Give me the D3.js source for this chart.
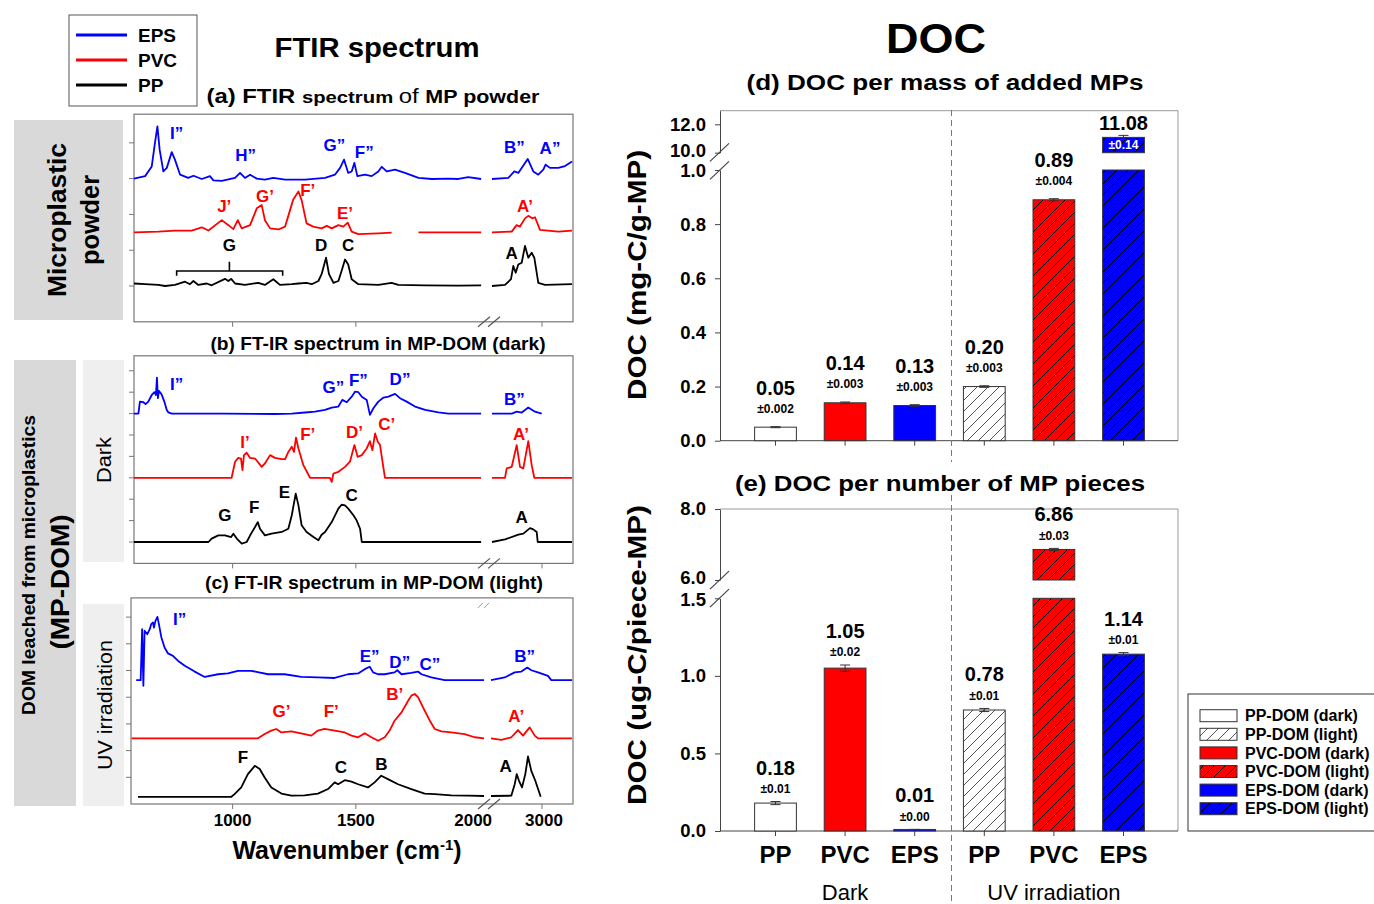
<!DOCTYPE html>
<html>
<head>
<meta charset="utf-8">
<script src="https://cdn.jsdelivr.net/npm/d3@7"></script>
<style>
  body { margin: 0; background: #fff; }
  svg { display: block; font-family: "Liberation Sans", Arial, sans-serif; }
</style>
</head>
<body>
<svg id="fig" width="1374" height="904"></svg>
<script>
// ---------- FTIR spectra: [wavenumber (cm-1), intensity above own baseline] ----------
// (a) powder
const epsPowder = [[600,0],[645,0.07],[672,0.34],[685,1.0],[695,1.46],[704,0.81],[719,0.2],[733,0.3],[753,0.74],[766,0.53],[787,0.11],[820,0.02],[841,0.08],[875,-0.01],[908,0.07],[922,-0.05],[956,-0.06],[1010,0.02],[1030,0.16],[1050,0.02],[1071,0.11],[1098,0],[1131,-0.03],[1165,0.02],[1213,-0.03],[1294,-0.03],[1375,0.02],[1415,0.11],[1436,0.3],[1452,0.53],[1469,0.16],[1483,0.2],[1494,0.44],[1506,0.07],[1537,0.11],[1564,0.07],[1591,0.2],[1605,0.33],[1625,0.2],[1659,0.25],[1699,0.16],[1754,0.02],[1808,-0.01],[1875,0],[1916,-0.01],[1956,0.04],[2008,-0.01],
  [2500,-0.01],[2663,0.02],[2723,0.2],[2763,0.16],[2857,0.55],[2913,0.2],[2963,0.11],[3013,0.25],[3036,0.39],[3080,0.3],[3163,0.3],[3230,0.35],[3300,0.48]];
const pvcPowder = [[600,0],[699,0.02],[766,0.05],[834,0.05],[875,0.14],[902,0.05],[956,0.34],[983,0.2],[1003,0.09],[1021,0.34],[1037,0.11],[1071,0.2],[1098,0.67],[1118,0.76],[1131,0.34],[1152,0.11],[1186,0.08],[1213,0.16],[1233,0.62],[1246,0.92],[1267,1.14],[1280,0.9],[1300,0.25],[1327,0.16],[1361,0.11],[1382,0.18],[1402,0.11],[1429,0.2],[1449,0.16],[1467,0.27],[1483,0.02],[1510,-0.05],[1591,-0.03],[1645,-0.01],[1700,null],[1754,0],[2008,0],
  [2500,0],[2697,0.02],[2746,0.2],[2780,0.16],[2830,0.39],[2863,0.46],[2903,0.39],[2930,0.42],[2980,0.07],[3163,0.02],[3300,0.05]];
const ppPowder = [[600,0.07],[645,0.05],[699,0.03],[726,0],[766,0.03],[807,0.12],[827,0.05],[841,0.14],[861,0.03],[895,0.07],[915,0.02],[969,0.2],[983,0.14],[994,0.2],[1010,0.07],[1050,0.03],[1104,0.09],[1131,0.03],[1165,0.19],[1192,0.03],[1240,0.05],[1267,0.07],[1300,0.09],[1321,0.05],[1348,0.14],[1361,0.33],[1379,0.79],[1391,0.33],[1409,0.09],[1429,0.14],[1442,0.42],[1456,0.74],[1469,0.6],[1483,0.19],[1510,0.05],[1591,0.03],[1645,0.09],[1672,0.03],[1781,0.02],[1916,0.01],[2008,0.02],
  [2500,0],[2630,0.03],[2690,0.19],[2713,0.56],[2737,0.37],[2763,0.6],[2797,0.65],[2830,1.12],[2863,0.79],[2897,0.93],[2923,0.79],[2963,0.09],[3030,0.03],[3300,0.05]];
// (b) MP-DOM dark
const epsDark = [[600,0],[618,0],[624,0.56],[638,0.53],[647,0.44],[658,0.56],[672,0.87],[683,1.0],[689,0.87],[693,1.68],[697,0.72],[701,1.06],[712,0.9],[723,0.56],[733,0.17],[739,0.06],[753,0],[969,0],[1172,-0.02],[1240,0],[1294,0.05],[1334,0.09],[1375,0.17],[1402,0.28],[1429,0.33],[1445,0.64],[1463,0.53],[1483,0.79],[1497,1.03],[1510,1.0],[1524,0.79],[1544,0.64],[1557,-0.06],[1571,0.25],[1591,0.56],[1612,0.75],[1632,0.79],[1659,0.92],[1679,0.72],[1706,0.56],[1740,0.33],[1781,0.17],[1835,0.06],[1875,0],[2008,0],
  [2500,0],[2697,0],[2747,0.09],[2797,0.05],[2863,0.28],[2930,0.09],[2997,0]];
const pvcDark = [[600,0],[996,0],[1010,0.75],[1023,0.93],[1034,0.9],[1040,0.36],[1046,1.06],[1057,1.17],[1071,0.93],[1091,0.9],[1118,0.51],[1131,0.67],[1152,1.06],[1172,0.93],[1199,0.87],[1213,0.87],[1226,1.21],[1240,1.45],[1249,1.21],[1257,1.88],[1267,1.37],[1287,0.59],[1314,0],[1395,0],[1402,-0.19],[1409,0.2],[1429,0.28],[1456,0.51],[1476,0.75],[1494,1.53],[1507,0.98],[1524,1.06],[1544,1.37],[1557,1.71],[1567,1.29],[1578,2.07],[1589,1.68],[1598,1.53],[1608,0.75],[1618,0],[2008,0],
  [2500,0],[2630,0],[2647,0.44],[2697,0.51],[2747,1.53],[2780,0.51],[2813,0.44],[2863,1.71],[2897,0.59],[2923,0],[3300,0]];
const ppDark = [[600,0],[902,0],[915,0.16],[942,0.31],[969,0.31],[994,0.23],[1003,0.39],[1017,0.16],[1037,-0.08],[1057,0],[1075,0.39],[1091,0.7],[1102,0.93],[1111,0.62],[1131,0.31],[1158,0.39],[1199,0.47],[1226,0.62],[1240,1.25],[1256,2.26],[1267,1.71],[1280,0.78],[1300,0.47],[1328,0.23],[1348,0.08],[1361,0.34],[1375,0.47],[1402,0.93],[1429,1.56],[1442,1.74],[1456,1.71],[1469,1.56],[1490,1.25],[1503,1.01],[1517,0.62],[1524,0],[2008,0],
  [2500,0],[2630,0.12],[2763,0.34],[2813,0.39],[2880,0.65],[2913,0.59],[2947,0.47],[2957,0],[3300,0]];
// (c) MP-DOM light
const epsLight = [[609,0],[627,0],[633,1.91],[638,-0.21],[643,1.85],[654,1.72],[664,1.91],[670,2.1],[677,2.16],[681,1.97],[687,2.22],[695,2.37],[701,2.1],[711,1.6],[724,1.22],[738,1.0],[758,0.91],[779,0.72],[806,0.54],[846,0.32],[887,0.12],[941,0.22],[981,0.25],[1022,0.35],[1076,0.35],[1144,0.22],[1211,0.22],[1279,0.12],[1346,0.1],[1414,0.08],[1468,0.22],[1509,0.25],[1536,0.41],[1556,0.5],[1570,0.29],[1590,0.22],[1617,0.22],[1657,0.29],[1668,0.37],[1685,0.22],[1725,0.27],[1752,0.32],[1766,0.22],[1806,0.1],[1860,0],[1955,0],[2020,0],
  [2490,0],[2627,0.1],[2727,0.29],[2793,0.32],[2853,0.47],[2893,0.37],[2960,0.29],[3060,0.16],[3093,0],[3300,0]];
const pvcLight = [[590,0],[1103,0],[1130,0.16],[1157,0.29],[1177,0.35],[1198,0.22],[1238,0.26],[1292,0.16],[1319,0.1],[1346,0.29],[1373,0.35],[1414,0.29],[1455,0.22],[1482,0.1],[1509,0.04],[1536,0.19],[1563,0.04],[1590,-0.09],[1617,0.04],[1637,0.29],[1657,0.66],[1685,0.97],[1712,1.41],[1725,1.6],[1739,1.66],[1752,1.54],[1779,1.04],[1800,0.66],[1820,0.35],[1847,0.26],[1887,0.22],[1941,0.16],[1982,0.04],[2020,0],
  [2490,0],[2593,-0.06],[2693,0.04],[2760,0.31],[2810,0.1],[2877,0.41],[2927,0.1],[2960,0],[3300,0]];
const ppLight = [[616,0],[995,0],[1008,0.1],[1035,0.35],[1062,0.85],[1090,1.16],[1110,1.04],[1130,0.72],[1157,0.35],[1198,0.12],[1238,0.04],[1292,0.05],[1346,0.12],[1387,0.29],[1414,0.54],[1428,0.47],[1455,0.62],[1482,0.57],[1509,0.47],[1549,0.35],[1576,0.54],[1603,0.79],[1630,0.66],[1671,0.47],[1725,0.29],[1779,0.12],[1820,0.1],[1887,0.05],[1955,0.04],[2020,0.03],
  [2490,0.03],[2693,0.04],[2727,0.47],[2747,0.85],[2770,0.6],[2800,0.35],[2833,0.85],[2860,1.51],[2893,0.97],[2933,0.6],[2987,0]];

// peak labels: [text, wavenumber, level, series index 0 EPS / 1 PVC / 2 PP]
const peaksA = [["I”",773,4.27,0],["H”",1053,3.66,0],["G”",1413,3.94,0],["F”",1534,3.75,0],["B”",2723,3.89,0],["A”",3080,3.85,0],
  ["J’",966,2.22,1],["G’",1131,2.5,1],["F’",1305,2.68,1],["E’",1456,2.03,1],["A’",2830,2.22,1],
  ["G",987,1.15,2],["D",1359,1.15,2],["C",1469,1.15,2],["A",2697,0.91,2]];
const peaksB = [["I”",773,7.4,0],["G”",1409,7.24,0],["F”",1510,7.56,0],["D”",1679,7.63,0],["B”",2723,6.7,0],
  ["I’",1050,4.67,1],["F’",1305,5.06,1],["D’",1494,5.14,1],["C’",1625,5.53,1],["A’",2790,5.06,1],
  ["G",969,1.25,2],["F",1088,1.64,2],["E",1210,2.34,2],["C",1483,2.18,2],["A",2797,1.17,2]];
const peaksC = [["I”",785,6.93,0],["E”",1556,5.55,0],["D”",1678,5.31,0],["C”",1800,5.24,0],["B”",2827,5.55,0],
  ["G’",1198,3.49,1],["F’",1400,3.49,1],["B’",1658,4.12,1],["A’",2743,3.31,1],
  ["F",1042,1.75,2],["C",1439,1.37,2],["B",1603,1.5,2],["A",2637,1.43,2]];
const bracketG = [773, 1203, 987];

const spectraNames = ["EPS", "PVC", "PP"];
const xTickLow = [1000, 1500, 2000];
const xTickHigh = [3000];

// ---------- DOC bar data ----------
const polymers = ["PP", "PVC", "EPS", "PP", "PVC", "EPS"];
const groups = ["Dark", "UV irradiation"];
const barKeys = ["PP-DOM (dark)", "PVC-DOM (dark)", "EPS-DOM (dark)", "PP-DOM (light)", "PVC-DOM (light)", "EPS-DOM (light)"];
const legendKeys = ["PP-DOM (dark)", "PP-DOM (light)", "PVC-DOM (dark)", "PVC-DOM (light)", "EPS-DOM (dark)", "EPS-DOM (light)"];
const massValues = [0.05, 0.14, 0.13, 0.20, 0.89, 11.08];
const massErr = [0.002, 0.003, 0.003, 0.003, 0.004, 0.14];
const massErrText = ["±0.002", "±0.003", "±0.003", "±0.003", "±0.004", "±0.14"];
const pieceValues = [0.18, 1.05, 0.01, 0.78, 6.86, 1.14];
const pieceErr = [0.01, 0.02, 0.00, 0.01, 0.03, 0.01];
const pieceErrText = ["±0.01", "±0.02", "±0.00", "±0.01", "±0.03", "±0.01"];
const massTicksLow = [0, 0.2, 0.4, 0.6, 0.8, 1.0], massTicksUp = [10, 12];
const pieceTicksLow = [0, 0.5, 1.0, 1.5], pieceTicksUp = [6, 8];

// ---------- styles ----------
const lineColors = ["#0000ff", "#ff0000", "#000000"];
const barFill = {
  "PP-DOM (dark)": "#ffffff", "PVC-DOM (dark)": "#ff0000", "EPS-DOM (dark)": "#0000ff",
  "PP-DOM (light)": "url(#hatchWhite)", "PVC-DOM (light)": "url(#hatchRed)", "EPS-DOM (light)": "url(#hatchBlue)"
};

const svg = d3.select("#fig");

function txt(x, y, s, o = {}) {
  const t = svg.append("text")
    .attr("x", x).attr("y", y).attr("dy", "0.35em")
    .attr("text-anchor", o.anchor || "middle")
    .attr("font-size", o.size || 16)
    .attr("font-weight", o.weight || "bold")
    .attr("fill", o.color || "#000")
    .text(s);
  if (o.len) t.attr("textLength", o.len).attr("lengthAdjust", "spacingAndGlyphs");
  if (o.rotate) t.attr("transform", `rotate(-90,${x},${y})`);
  return t;
}

// hatch patterns
const defs = svg.append("defs");
[["hatchWhite", "#ffffff", "#555"], ["hatchRed", "#ff0000", "#000"], ["hatchBlue", "#0000ff", "#000"]].forEach(([id, bg, fg]) => {
  const p = defs.append("pattern").attr("id", id)
    .attr("patternUnits", "userSpaceOnUse").attr("width", 11).attr("height", 11);
  p.append("rect").attr("width", 11).attr("height", 11).attr("fill", bg);
  p.append("path").attr("d", "M-1,1 L1,-1 M0,11 L11,0 M10,12 L12,10")
    .attr("stroke", fg).attr("stroke-width", 1);
});

// ================= LEFT: FTIR =================
// legend
svg.append("rect").attr("x", 69).attr("y", 15).attr("width", 128).attr("height", 91)
  .attr("fill", "#fff").attr("stroke", "#555");
spectraNames.forEach((n, i) => {
  svg.append("line").attr("x1", 76).attr("x2", 127).attr("y1", 35 + i * 25).attr("y2", 35 + i * 25)
    .attr("stroke", lineColors[i]).attr("stroke-width", 3);
  txt(138, 35 + i * 25, n, { anchor: "start", size: 19 });
});
txt(377, 48, "FTIR spectrum", { size: 27, len: 205 });

const ta = svg.append("text").attr("x", 373).attr("y", 97).attr("dy", "0.35em")
  .attr("text-anchor", "middle").attr("font-weight", "bold").attr("textLength", 333)
  .attr("lengthAdjust", "spacingAndGlyphs");
ta.append("tspan").attr("font-size", 20).text("(a) FTIR ");
ta.append("tspan").attr("font-size", 17).text("spectrum ");
ta.append("tspan").attr("font-size", 20).attr("font-weight", "normal").text("of ");
ta.append("tspan").attr("font-size", 18).text("MP powder");
txt(378, 343, "(b) FT-IR spectrum in MP-DOM (dark)", { size: 19, len: 335 });
txt(374, 582, "(c) FT-IR spectrum in MP-DOM (light)", { size: 19, len: 338 });

// side labels
svg.append("rect").attr("x", 14).attr("y", 120).attr("width", 109).attr("height", 200).attr("fill", "#d9d9d9");
txt(57, 220, "Microplastic", { size: 26, rotate: true, len: 154 });
txt(90, 220, "powder", { size: 26, rotate: true, len: 90 });
svg.append("rect").attr("x", 14).attr("y", 360).attr("width", 62).attr("height", 446).attr("fill", "#d9d9d9");
txt(29, 565, "DOM leached from microplastics", { size: 18, rotate: true, len: 300 });
txt(60, 582, "(MP-DOM)", { size: 26, rotate: true, len: 135 });
svg.append("rect").attr("x", 83).attr("y", 360).attr("width", 41).attr("height", 202).attr("fill", "#efefef");
txt(104, 460, "Dark", { size: 21, weight: "normal", rotate: true, len: 46 });
svg.append("rect").attr("x", 83).attr("y", 604).attr("width", 41).attr("height", 202).attr("fill", "#efefef");
txt(105, 705, "UV irradiation", { size: 21, weight: "normal", rotate: true, len: 130 });

const xLow = d3.scaleLinear().domain([600, 2040]).range([134, 489]);
const xHigh = d3.scaleLinear().domain([2500, 3300]).range([492, 572]);
const wx = w => (w < 2200 ? xLow(w) : xHigh(w));

const panels = [
  { left: 134, right: 573, domain: [-1, 4.8], range: [321.8, 114.2], ticks: [0, 1, 2, 3, 4],
    offsets: [3.0, 1.5, 0], series: [epsPowder, pvcPowder, ppPowder], peaks: peaksA },
  { left: 134, right: 573, domain: [-1, 8.7], range: [563.4, 355.8], ticks: [0, 1, 2, 3, 4, 5, 6, 7, 8],
    offsets: [6, 3, 0], series: [epsDark, pvcDark, ppDark], peaks: peaksB },
  { left: 131, right: 573, domain: [0, 7.72], range: [804, 597.9], ticks: [1, 2, 3, 4, 5, 6, 7],
    offsets: [4.64, 2.46, 0.27], series: [epsLight, pvcLight, ppLight], peaks: peaksC }
];

panels.forEach((p, pi) => {
  const y = d3.scaleLinear().domain(p.domain).range(p.range);
  const g = svg.append("g");
  const top = p.range[1], bot = p.range[0];
  g.append("rect").attr("x", p.left).attr("y", top).attr("width", p.right - p.left).attr("height", bot - top)
    .attr("fill", "#fff").attr("stroke", "#777").attr("stroke-width", 1.2);
  p.ticks.forEach(t => g.append("line").attr("x1", p.left - 5).attr("x2", p.left)
    .attr("y1", y(t)).attr("y2", y(t)).attr("stroke", "#777"));
  [...xTickLow.slice(0, 2).map(xLow), ...xTickHigh.map(xHigh)].forEach(xx =>
    g.append("line").attr("x1", xx).attr("x2", xx).attr("y1", bot).attr("y2", bot + 5).attr("stroke", "#777"));
  // axis break marks
  [0, 10].forEach(dx => g.append("line").attr("x1", 478 + dx).attr("y1", bot + 5)
    .attr("x2", 490 + dx).attr("y2", bot - 5).attr("stroke", "#555").attr("stroke-width", 1.2));

  p.series.forEach((s, si) => {
    const line = d3.line().defined(d => d[1] !== null)
      .x(d => wx(d[0])).y(d => y(d[1] + p.offsets[si]));
    [s.filter(d => d[0] < 2200), s.filter(d => d[0] >= 2200)].forEach(seg =>
      g.append("path").attr("d", line(seg)).attr("fill", "none")
        .attr("stroke", lineColors[si]).attr("stroke-width", 1.8).attr("stroke-linejoin", "round"));
  });
  p.peaks.forEach(([t, w, v, si]) =>
    g.append("text").attr("x", wx(w)).attr("y", y(v)).attr("dy", "0.35em").attr("text-anchor", "middle")
      .attr("font-size", 17).attr("font-weight", "bold").attr("fill", lineColors[si]).text(t));

  if (pi === 0) {
    const yb = y(0.42);
    g.append("path").attr("d", `M${wx(bracketG[0])},${y(0.29)}V${yb}H${wx(bracketG[1])}V${y(0.29)}M${wx(bracketG[2])},${yb}V${y(0.68)}`)
      .attr("fill", "none").attr("stroke", "#000").attr("stroke-width", 1.6);
  }
  if (pi === 2) {
    [0, 6].forEach(dx => g.append("line").attr("x1", 478 + dx).attr("y1", top + 10)
      .attr("x2", 483 + dx).attr("y2", top + 5).attr("stroke", "#999"));
    xTickLow.forEach(t => txt(t === 2000 ? xLow(t) - 6 : xLow(t), 820, String(t), { size: 17 }));
    xTickHigh.forEach(t => txt(xHigh(t) + 2, 820, String(t), { size: 17 }));
  }
});

const wl = svg.append("text").attr("x", 347).attr("y", 850).attr("dy", "0.35em").attr("text-anchor", "middle")
  .attr("font-size", 25).attr("font-weight", "bold");
wl.append("tspan").text("Wavenumber (cm");
wl.append("tspan").attr("font-size", 15).attr("dy", "-0.6em").text("-1");
wl.append("tspan").attr("dy", "0.35em").text(")");

// ================= RIGHT: DOC bars =================
txt(936, 38, "DOC", { size: 43, len: 100 });
txt(945, 82, "(d) DOC per mass of added MPs", { size: 22, len: 397 });
txt(940, 483, "(e) DOC per number of MP pieces", { size: 22, len: 410 });

const axisX = 720, plotRight = 1178;
const xb = d3.scaleBand().domain(d3.range(6)).range([740.7, 1158.3]).paddingInner(0.4).paddingOuter(0.2);
const cx = i => xb(i) + xb.bandwidth() / 2;

const barPanels = [
  { lowD: [0, 1.0], lowR: [440.7, 170], upD: [10, 12.96], upR: [152.7, 110.7], lowTicks: massTicksLow, upTicks: massTicksUp,
    values: massValues, errs: massErr, errText: massErrText, off: [39, 18], errInside: true,
    ylabel: "DOC (mg-C/g-MP)", ylabY: 275, ylabLen: 250 },
  { lowD: [0, 1.5], lowR: [831, 598.3], upD: [6, 8], upR: [580, 509], lowTicks: pieceTicksLow, upTicks: pieceTicksUp,
    values: pieceValues, errs: pieceErr, errText: pieceErrText, off: [34, 13], errInside: false,
    ylabel: "DOC (ug-C/piece-MP)", ylabY: 655, ylabLen: 300 }
];

barPanels.forEach(bp => {
  const yl = d3.scaleLinear().domain(bp.lowD).range(bp.lowR);
  const yu = d3.scaleLinear().domain(bp.upD).range(bp.upR);
  const lowMax = bp.lowD[1];
  const ys = v => (v > lowMax ? yu(v) : yl(v));
  const g = svg.append("g");
  const top = bp.upR[1], bot = bp.lowR[0];

  // frame (top and right)
  g.append("path").attr("d", `M${axisX},${top}H${plotRight}V${bot}`).attr("fill", "none").attr("stroke", "#999");

  [[yl, bp.lowTicks, 1], [yu, bp.upTicks, -2]].forEach(([sc, tv, shift]) => {
    const ax = g.append("g").attr("transform", `translate(${axisX},0)`)
      .call(d3.axisLeft(sc).tickValues(tv).tickFormat(d3.format(".1f")).tickSize(5).tickSizeOuter(0).tickPadding(9));
    ax.selectAll("path, line").attr("stroke", "#444");
    ax.selectAll("text").attr("font-size", 18.5).attr("font-weight", "bold")
      .attr("font-family", '"Liberation Sans", Arial, sans-serif').attr("fill", "#000");
    // nudge the two labels that sit beside the axis break apart
    ax.selectAll(".tick").filter(d => d === tv[shift > 0 ? tv.length - 1 : 0])
      .select("text").attr("y", shift);
  });
  const gc = (bp.lowR[1] + bp.upR[0]) / 2;
  [0, 18].forEach(dy => g.append("line").attr("x1", axisX - 10).attr("y1", gc + dy)
    .attr("x2", axisX + 9).attr("y2", gc + dy - 18).attr("stroke", "#444").attr("stroke-width", 1.2));

  // bottom axis
  g.append("line").attr("x1", axisX).attr("x2", plotRight).attr("y1", bot).attr("y2", bot).attr("stroke", "#444");
  d3.range(6).forEach(i => g.append("line").attr("x1", cx(i)).attr("x2", cx(i)).attr("y1", bot).attr("y2", bot + 5).attr("stroke", "#444"));

  // bars
  bp.values.forEach((v, i) => {
    const key = barKeys[i];
    const bx = xb(i), bw = xb.bandwidth();
    const rect = (y0, y1) => g.append("rect").attr("x", bx).attr("y", y1).attr("width", bw)
      .attr("height", Math.max(y0 - y1, 1.5)).attr("fill", barFill[key]).attr("stroke", "#333").attr("stroke-width", 1);
    const broken = v > lowMax;
    if (broken) { rect(yl(0), yl(lowMax)); rect(yu(bp.upD[0]), yu(v)); }
    else rect(yl(0), yl(v));
    // error bar
    const e = bp.errs[i];
    const eTop = ys(v + e), eBot = ys(v - e);
    g.append("path").attr("d", `M${cx(i)},${eBot}V${eTop}M${cx(i) - 5},${eTop}H${cx(i) + 5}M${cx(i) - 5},${eBot}H${cx(i) + 5}`)
      .attr("stroke", "#333").attr("stroke-width", 1).attr("fill", "none");
    const fmt = d3.format(".2f");
    if (broken && bp.errInside) {
      txt(cx(i), eTop - 12, fmt(v), { size: 20 });
      txt(cx(i), (yu(bp.upD[0]) + yu(v)) / 2, bp.errText[i], { size: 12, color: "#fff" });
    } else {
      txt(cx(i), eTop - bp.off[0], fmt(v), { size: 20 });
      txt(cx(i), eTop - bp.off[1], bp.errText[i], { size: 12 });
    }
  });

  txt(637, bp.ylabY, bp.ylabel, { size: 25, rotate: true, len: bp.ylabLen });
});

// separator
const sepX = (cx(2) + cx(3)) / 2 + 2;
[[110, 462], [495, 904]].forEach(([a, b]) => svg.append("line").attr("x1", sepX).attr("x2", sepX)
  .attr("y1", a).attr("y2", b).attr("stroke", "#777").attr("stroke-dasharray", "6,4"));

// category + group labels
polymers.forEach((p, i) => txt(cx(i), 855, p, { size: 24 }));
groups.forEach((gname, gi) => txt(cx(gi * 3 + 1), 892, gname, { size: 22, weight: "normal" }));

// legend
svg.append("rect").attr("x", 1188).attr("y", 694).attr("width", 200).attr("height", 137)
  .attr("fill", "#fff").attr("stroke", "#333");
legendKeys.forEach((k, i) => {
  const yy = 715.7 + i * 18.6;
  svg.append("rect").attr("x", 1200).attr("y", yy - 6).attr("width", 37).attr("height", 12)
    .attr("fill", barFill[k]).attr("stroke", "#333");
  txt(1245, yy, k, { anchor: "start", size: 16 });
});
</script>
</body>
</html>
